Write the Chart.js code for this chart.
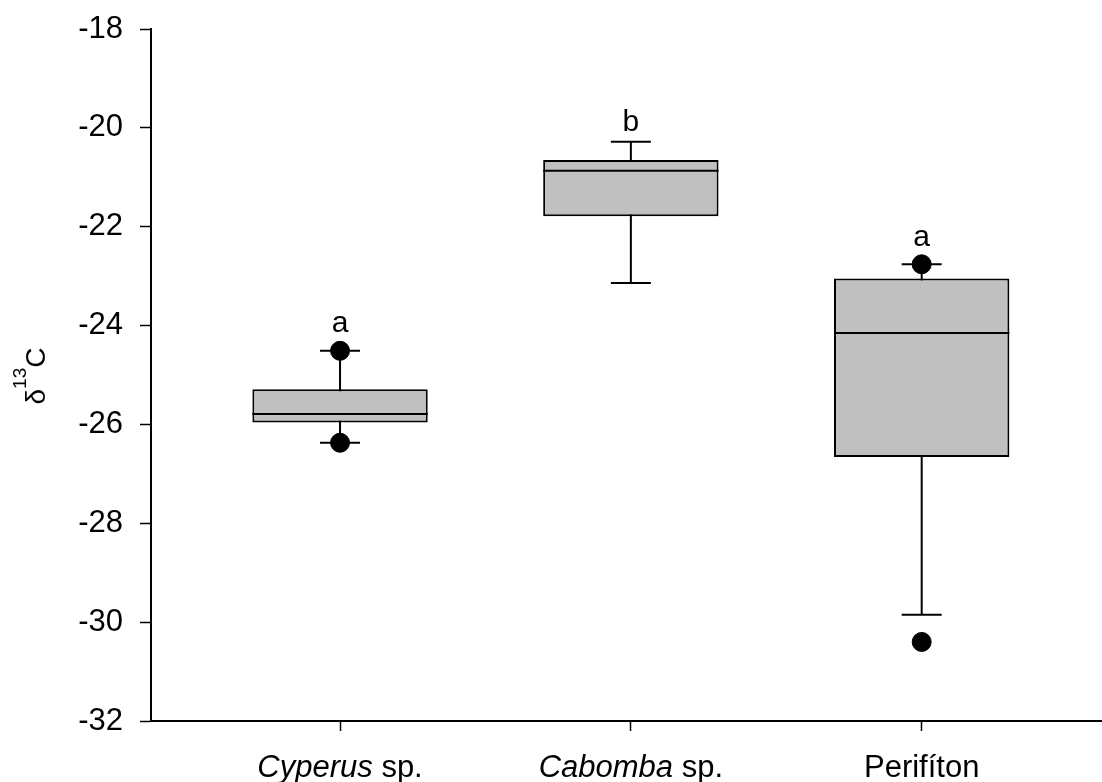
<!DOCTYPE html>
<html>
<head>
<meta charset="utf-8">
<title>d13C box plot</title>
<script src="https://cdn.jsdelivr.net/npm/chart.js@4.4.1/dist/chart.umd.min.js"></script>
<style>
  html, body { margin: 0; padding: 0; background: #fff; }
  #wrap { width: 1102px; height: 782px; position: relative; }
</style>
</head>
<body>
<div id="wrap"><canvas id="myChart"></canvas></div>
<script>
'use strict';

//---------------------- Data -------------------
let genusNames = ['Cyperus', 'Cabomba', ''];
let plainNames = [' sp.', ' sp.', 'Perifíton'];
let lowerWhisker = [-26.37, -23.14, -29.85];
let firstQuartile = [-25.96, -21.79, -26.66];
let medianValues = [-25.79, -20.87, -24.15];
let thirdQuartile = [-25.29, -20.65, -23.05];
let upperWhisker = [-24.51, -20.28, -22.76];
let outlierValues = [[-24.51, -26.37], [], [-22.76, -30.40]];
let letters = ['a', 'b', 'a'];
let letterValues = [-24.13, -20.06, -22.39];
let yTicks = [-32, -30, -28, -26, -24, -22, -20, -18];

let fontFamily = '"Liberation Sans", Arial, sans-serif';

// boxes as floating bars, x = 1, 2, 3
let boxData = [];
let dotData = [];
for (let i = 0; i < medianValues.length; i++) {
  boxData.push({ x: i + 1, y: [firstQuartile[i], thirdQuartile[i]] });
  for (let j = 0; j < outlierValues[i].length; j++) {
    dotData.push({ x: i + 1, y: outlierValues[i][j] });
  }
}

// whiskers, caps, median, letters, x labels and y title
let boxExtras = {
  id: 'boxExtras',
  beforeDatasetsDraw(chart) {
    let ctx = chart.ctx;
    let x = chart.scales.x;
    let y = chart.scales.y;
    ctx.save();
    ctx.strokeStyle = '#000';
    ctx.lineWidth = 2;
    for (let i = 0; i < medianValues.length; i++) {
      let cx = x.getPixelForValue(i + 1);
      let top = y.getPixelForValue(upperWhisker[i]);
      let bottom = y.getPixelForValue(lowerWhisker[i]);
      ctx.beginPath();
      ctx.moveTo(cx, top);
      ctx.lineTo(cx, bottom);
      ctx.moveTo(cx - 20, top);
      ctx.lineTo(cx + 20, top);
      ctx.moveTo(cx - 20, bottom);
      ctx.lineTo(cx + 20, bottom);
      ctx.stroke();
    }
    ctx.restore();
  },
  afterDatasetsDraw(chart) {
    let ctx = chart.ctx;
    let x = chart.scales.x;
    let y = chart.scales.y;
    let bars = chart.getDatasetMeta(0).data;
    ctx.save();
    ctx.strokeStyle = '#000';
    ctx.lineWidth = 2;
    for (let i = 0; i < medianValues.length; i++) {
      let bar = bars[i];
      let my = y.getPixelForValue(medianValues[i]);
      ctx.beginPath();
      ctx.moveTo(bar.x - bar.width / 2, my);
      ctx.lineTo(bar.x + bar.width / 2, my);
      ctx.stroke();
    }
    ctx.fillStyle = '#000';
    ctx.textAlign = 'center';
    ctx.textBaseline = 'alphabetic';
    ctx.font = '30px ' + fontFamily;
    for (let i = 0; i < letters.length; i++) {
      ctx.fillText(letters[i], x.getPixelForValue(i + 1), y.getPixelForValue(letterValues[i]));
    }
    ctx.restore();
  },
  afterDraw(chart) {
    let ctx = chart.ctx;
    let x = chart.scales.x;
    ctx.save();
    ctx.fillStyle = '#000';
    ctx.textBaseline = 'alphabetic';
    ctx.textAlign = 'left';
    let italicFont = 'italic 31px ' + fontFamily;
    let plainFont = '31px ' + fontFamily;
    for (let i = 0; i < genusNames.length; i++) {
      ctx.font = italicFont;
      let w1 = ctx.measureText(genusNames[i]).width;
      ctx.font = plainFont;
      let w2 = ctx.measureText(plainNames[i]).width;
      let start = x.getPixelForValue(i + 1) - (w1 + w2) / 2;
      ctx.font = italicFont;
      ctx.fillText(genusNames[i], start, 777);
      ctx.font = plainFont;
      ctx.fillText(plainNames[i], start + w1, 777);
    }

    // y title: delta 13 C, rotated
    ctx.translate(45, 376);
    ctx.rotate(-Math.PI / 2);
    ctx.font = '28px ' + fontFamily;
    let dw = ctx.measureText('δ').width;
    ctx.font = '19px ' + fontFamily;
    let sw = ctx.measureText('13').width;
    ctx.font = '28px ' + fontFamily;
    let cw = ctx.measureText('C').width;
    let sx = -(dw + sw + cw) / 2;
    ctx.fillText('δ', sx, 0);
    ctx.font = '19px ' + fontFamily;
    ctx.fillText('13', sx + dw, -19);
    ctx.font = '28px ' + fontFamily;
    ctx.fillText('C', sx + dw + sw, 0);
    ctx.restore();
  }
};

Chart.defaults.color = '#000';
Chart.defaults.font.family = fontFamily;

let ctx = document.getElementById('myChart').getContext('2d');
let myChart = new Chart(ctx, {
  type: 'bar',
  data: {
    datasets: [
      {
        type: 'bar',
        label: 'box',
        data: boxData,
        backgroundColor: '#c0c0c0',
        borderColor: '#000',
        borderWidth: 2,
        borderSkipped: false,
        barPercentage: 0.603,
        categoryPercentage: 1,
      },
      {
        type: 'scatter',
        label: 'outliers',
        data: dotData,
        backgroundColor: '#000',
        borderColor: '#000',
        pointRadius: 9.5,
        pointHoverRadius: 9.5,
      },
    ],
  },
  options: {
    responsive: true,
    maintainAspectRatio: false,
    devicePixelRatio: 1,
    animation: false,
    layout: { autoPadding: false, padding: { top: 29, right: 0, bottom: 0, left: 0 } },
    plugins: {
      legend: { display: false },
      tooltip: { enabled: false },
    },
    scales: {
      x: {
        type: 'linear',
        min: 0.35,
        max: 3.62,
        offset: false,
        afterBuildTicks: function (scale) {
          scale.ticks = [{ value: 1 }, { value: 2 }, { value: 3 }];
        },
        afterFit: function (scale) {
          scale.height = 61;
        },
        ticks: {
          display: false,
        },
        grid: {
          offset: false,
          drawOnChartArea: false,
          drawTicks: true,
          tickLength: 10,
          tickColor: '#000',
          tickWidth: 1.5,
        },
        border: { display: true, color: '#000', width: 2 },
      },
      y: {
        min: -32,
        max: -18,
        afterBuildTicks: function (scale) {
          scale.ticks = yTicks.map(function (v) { return { value: v }; });
        },
        afterFit: function (scale) {
          scale.width = 151;
        },
        ticks: {
          font: { size: 31, lineHeight: 0.75 },
          color: '#000',
          padding: 17,
        },
        grid: {
          drawOnChartArea: false,
          drawTicks: true,
          tickLength: 11,
          tickColor: '#000',
          tickWidth: 1.5,
        },
        border: { display: true, color: '#000', width: 2 },
      },
    },
  },
  plugins: [boxExtras],
});
</script>
</body>
</html>
